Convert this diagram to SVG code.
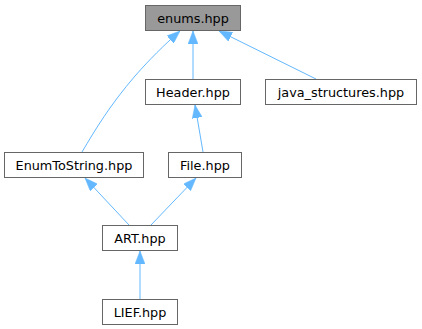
<svg xmlns="http://www.w3.org/2000/svg" width="422" height="329" viewBox="0 0 422 329">
  <style>
    .node rect { fill: #ffffff; stroke: #666666; stroke-width: 1; }
    .node.root rect { fill: #999999; }
    .node text { font-family: "DejaVu Sans", sans-serif; font-size: 12.8px; fill: #000000; text-anchor: middle; }
    .edges path { fill: none; stroke: #63b8ff; stroke-width: 1; marker-end: url(#head); }
  </style>
  <defs>
    <marker id="head" viewBox="0 0 13 10" refX="13" refY="5" markerUnits="userSpaceOnUse" markerWidth="13" markerHeight="10" orient="auto">
      <path d="M0,0 L13,5 L0,10 Z" fill="#63b8ff" stroke="#63b8ff" stroke-width="0.5"/>
    </marker>
  </defs>
  <rect width="422" height="329" fill="#ffffff"/>

  <g class="edges">
    <path d="M193,79 L193,31"/>
    <path d="M316,79 L219,31"/>
    <path d="M82,152 C95,130 110,105 135,76 C150,59 163,46 180,31"/>
    <path d="M203,152 L195,105"/>
    <path d="M129,225 L85,178"/>
    <path d="M151,225 L196,178"/>
    <path d="M140,299 L140,251"/>
  </g>

  <g id="enums" class="node root">
    <rect x="145.5" y="5.5" width="95" height="25"/>
    <text x="193" y="22.5">enums.hpp</text>
  </g>
  <g id="header" class="node">
    <rect x="145.5" y="79.5" width="95" height="25"/>
    <text x="193" y="96.5">Header.hpp</text>
  </g>
  <g id="java_structures" class="node">
    <rect x="265.5" y="79.5" width="151" height="25"/>
    <text x="341" y="96.5">java_structures.hpp</text>
  </g>
  <g id="enum_to_string" class="node">
    <rect x="4.5" y="152.5" width="139" height="25"/>
    <text x="74" y="169.5">EnumToString.hpp</text>
  </g>
  <g id="file" class="node">
    <rect x="168.5" y="152.5" width="73" height="25"/>
    <text x="205" y="169.5">File.hpp</text>
  </g>
  <g id="art" class="node">
    <rect x="102.5" y="225.5" width="75" height="25"/>
    <text x="140" y="242.5">ART.hpp</text>
  </g>
  <g id="lief" class="node">
    <rect x="102.5" y="299.5" width="75" height="25"/>
    <text x="140" y="316.5">LIEF.hpp</text>
  </g>
</svg>
